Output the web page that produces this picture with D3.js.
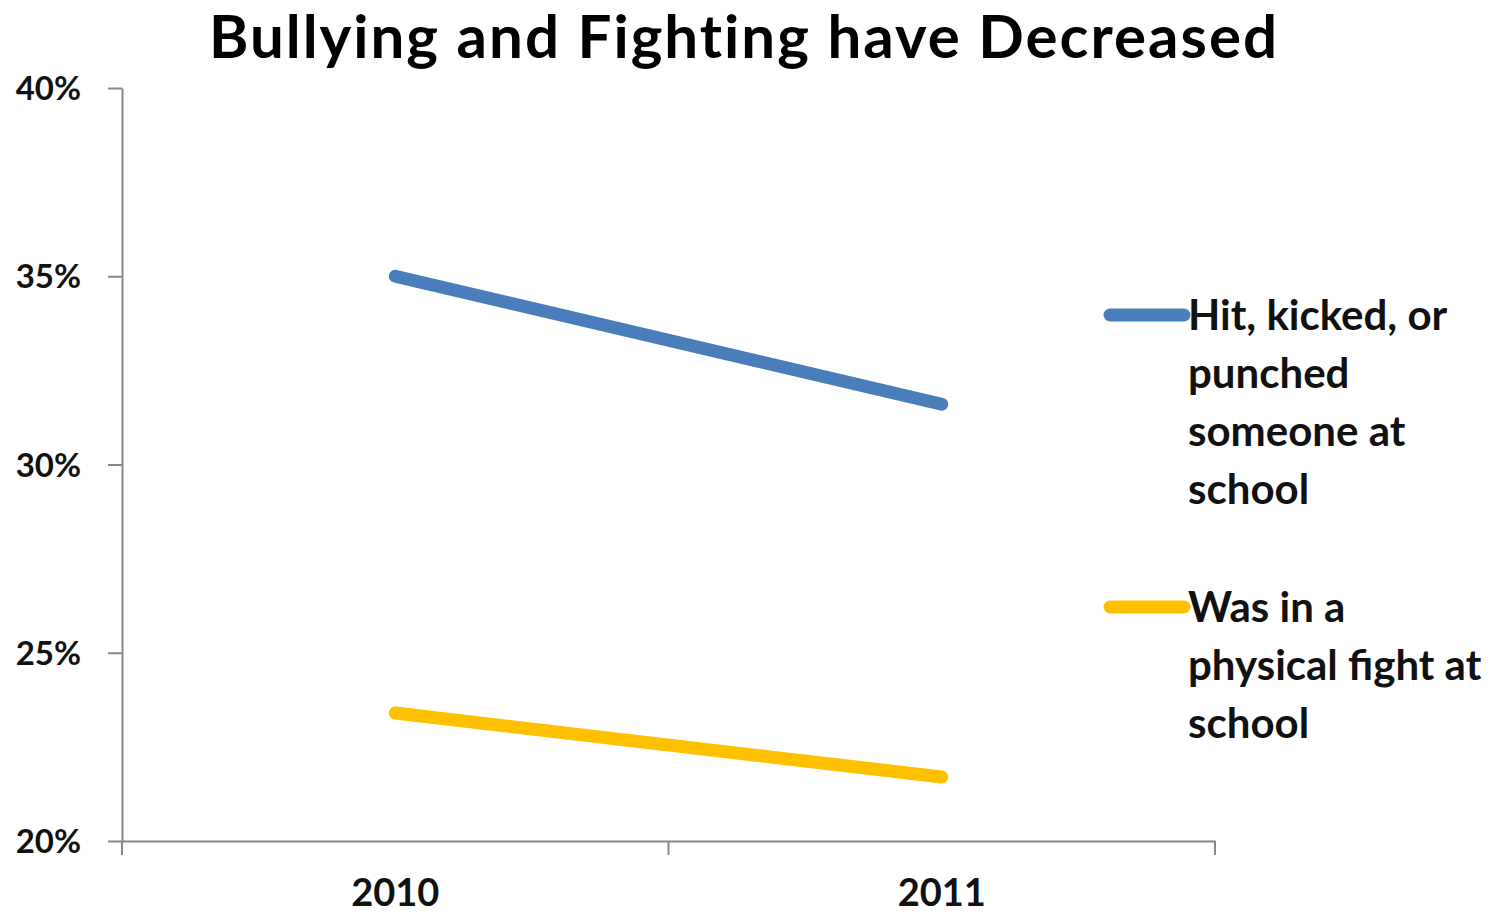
<!DOCTYPE html>
<html>
<head>
<meta charset="utf-8">
<script src="https://cdn.jsdelivr.net/npm/d3@7"></script>
<style>
  body { margin: 0; background: #fff; }
  svg { display: block; font-family: Lato, "Open Sans", sans-serif; }
</style>
</head>
<body>
<div id="chart"></div>
<script>
// Chart data
const years = ['2010', '2011'];
const hitValues = [35.0, 31.6];
const fightValues = [23.4, 21.7];
const yTicks = [20, 25, 30, 35, 40];
const seriesNames = [
  ['Hit, kicked, or', 'punched', 'someone at', 'school'],
  ['Was in a', 'physical fight at', 'school']
];
const seriesColors = ['#4a7ebb', '#ffc000'];

const width = 1510;
const height = 914;
const plot = { left: 122, right: 1215, top: 88, bottom: 841 };

const svg = d3.select('#chart')
  .append('svg')
  .attr('width', width)
  .attr('height', height);

// Title
svg.append('text')
  .attr('x', 744)
  .attr('y', 58)
  .attr('text-anchor', 'middle')
  .attr('font-size', '60px')
  .attr('font-weight', 'bold')
  .attr('letter-spacing', '2px')
  .attr('fill', '#000')
  .text('Bullying and Fighting have Decreased');

const x = d3.scaleBand()
  .domain(years)
  .range([plot.left, plot.right]);

const y = d3.scaleLinear()
  .domain([20, 40])
  .range([plot.bottom, plot.top]);

// Y axis
const yAxis = svg.append('g')
  .attr('transform', `translate(${plot.left}, 0)`)
  .call(d3.axisLeft(y).tickValues(yTicks).tickFormat(d => d + '%').tickSize(14).tickSizeOuter(0));
yAxis.select('.domain').attr('stroke', '#888').attr('stroke-width', 2);
yAxis.selectAll('.tick line').attr('stroke', '#888').attr('stroke-width', 2);
yAxis.selectAll('.tick text')
  .attr('x', -41)
  .attr('dy', '0.35em')
  .attr('font-size', '33px')
  .attr('font-weight', 'bold')
  .attr('fill', '#111')
  .style('font-family', 'Lato, sans-serif');

// X axis
const xAxis = svg.append('g')
  .attr('transform', `translate(0, ${plot.bottom})`)
  .call(d3.axisBottom(x).tickSize(0).tickSizeOuter(0));
xAxis.select('.domain').attr('stroke', '#888').attr('stroke-width', 2);
xAxis.selectAll('.tick text')
  .attr('y', 65)
  .attr('dy', 0)
  .attr('font-size', '38px')
  .attr('font-weight', 'bold')
  .attr('fill', '#111')
  .style('font-family', 'Lato, sans-serif');

// category boundary ticks
const boundaries = years.map(d => x(d)).concat([x(years[years.length - 1]) + x.bandwidth()]);
xAxis.selectAll('.boundary')
  .data(boundaries)
  .enter()
  .append('line')
  .attr('x1', d => d)
  .attr('x2', d => d)
  .attr('y1', 0)
  .attr('y2', 14)
  .attr('stroke', '#888')
  .attr('stroke-width', 2);

// Lines
const line = d3.line()
  .x((d, i) => x(years[i]) + x.bandwidth() / 2)
  .y(d => y(d));

[hitValues, fightValues].forEach((values, i) => {
  svg.append('path')
    .datum(values)
    .attr('fill', 'none')
    .attr('stroke', seriesColors[i])
    .attr('stroke-width', 13)
    .attr('stroke-linecap', 'round')
    .attr('d', line);
});

// Legend
const legendTops = [315, 607];
seriesNames.forEach((lines, i) => {
  const g = svg.append('g')
    .attr('transform', `translate(1110, ${legendTops[i]})`);
  g.append('line')
    .attr('x1', 0)
    .attr('x2', 74)
    .attr('y1', 0)
    .attr('y2', 0)
    .attr('stroke', seriesColors[i])
    .attr('stroke-width', 13)
    .attr('stroke-linecap', 'round');
  g.append('text')
    .attr('x', 78)
    .attr('y', 15)
    .attr('font-size', '42px')
    .attr('font-weight', 'bold')
    .attr('fill', '#111')
    .selectAll('tspan')
    .data(lines)
    .enter()
    .append('tspan')
    .attr('x', 78)
    .attr('dy', (d, j) => j === 0 ? 0 : 58)
    .text(d => d);
});
</script>
</body>
</html>
